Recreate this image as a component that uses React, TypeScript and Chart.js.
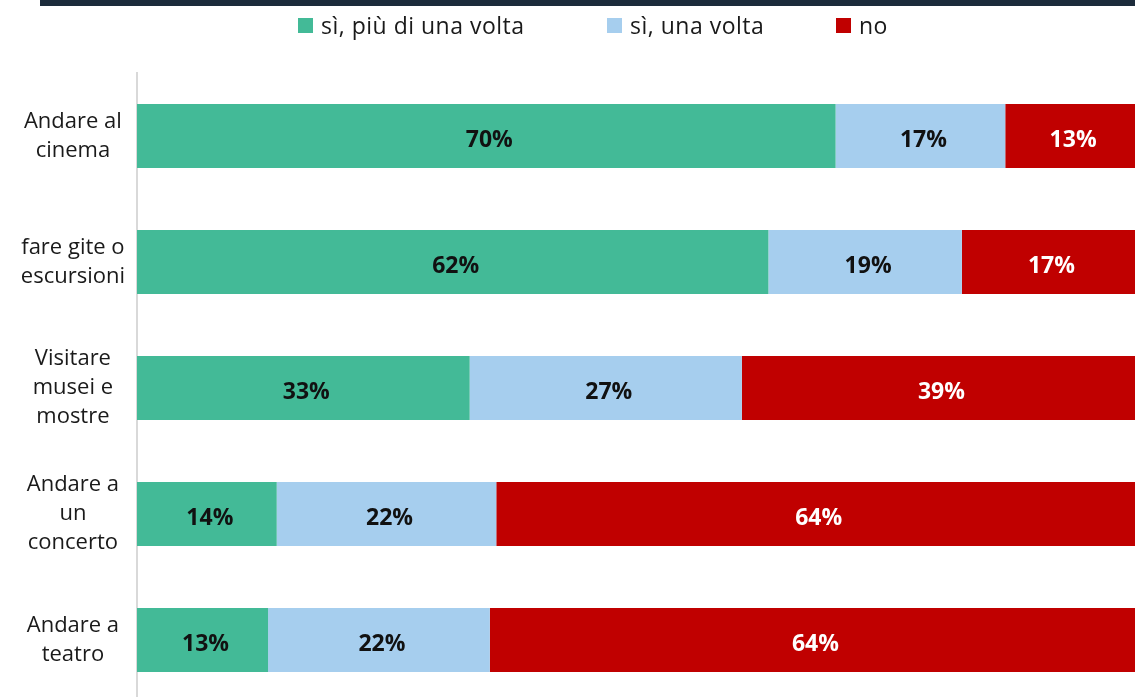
import React, { useEffect, useRef } from "react";
import { Chart, registerables } from "chart.js";

Chart.register(...registerables);

const categories: string[][] = [
  ["Andare al", "cinema"],
  ["fare gite o", "escursioni"],
  ["Visitare", "musei e", "mostre"],
  ["Andare a", "un", "concerto"],
  ["Andare a", "teatro"],
];
const seriesNames = ["sì, più di una volta", "sì, una volta", "no"];
const piuDiUnaVolta = [70, 62, 33, 14, 13];
const unaVolta = [17, 19, 27, 22, 22];
const mai = [13, 17, 39, 64, 64];

const seriesValues = [piuDiUnaVolta, unaVolta, mai];
const seriesColors = ["#43BA97", "#A6CEEE", "#C00000"];
const labelColors = ["#111111", "#111111", "#FFFFFF"];
const legendLeft = [298, 607, 836];
const FONT = "'Open Sans', 'DejaVu Sans', sans-serif";

const rowTotals = categories.map((_, j) =>
  seriesValues.reduce((s, arr) => s + arr[j], 0)
);

const valueLabels = {
  id: "valueLabels",
  afterDatasetsDraw(chart: any) {
    const ctx = chart.ctx;
    ctx.save();
    ctx.font = `bold 23px ${FONT}`;
    ctx.textAlign = "center";
    ctx.textBaseline = "middle";
    chart.data.datasets.forEach((_: any, i: number) => {
      const meta = chart.getDatasetMeta(i);
      meta.data.forEach((el: any, j: number) => {
        const p = el.getProps(["x", "base", "y"], true);
        ctx.fillStyle = labelColors[i];
        ctx.fillText(seriesValues[i][j] + "%", (p.x + p.base) / 2 + 3, p.y + 4);
      });
    });
    ctx.restore();
  },
};

export default function App() {
  const canvasRef = useRef<HTMLCanvasElement | null>(null);

  useEffect(() => {
    if (!canvasRef.current) return;
    const chart = new Chart(canvasRef.current, {
      type: "bar",
      data: {
        labels: categories,
        datasets: seriesNames.map((name, i) => ({
          label: name,
          data: seriesValues[i].map((v, j) => (v / rowTotals[j]) * 100),
          backgroundColor: seriesColors[i],
          borderWidth: 0,
          barPercentage: 1,
          categoryPercentage: 0.508,
        })),
      },
      options: {
        indexAxis: "y",
        animation: false,
        responsive: true,
        maintainAspectRatio: false,
        layout: { padding: { top: 73, right: 0, bottom: 0, left: 0 } },
        plugins: {
          legend: { display: false },
          tooltip: { enabled: false },
        },
        scales: {
          x: { stacked: true, min: 0, max: 100, display: false },
          y: {
            stacked: true,
            grid: { display: false },
            border: { display: true, color: "#D9D9D9", width: 2 },
            ticks: {
              crossAlign: "center",
              padding: 4,
              color: "#1A1A1A",
              font: { family: FONT, size: 22, lineHeight: 1.32 },
            },
            afterFit: (scale: any) => {
              scale.width = 137;
            },
          },
        },
      } as any,
      plugins: [valueLabels],
    });
    return () => chart.destroy();
  }, []);

  return (
    <div
      style={{
        position: "fixed",
        left: 0,
        top: 0,
        width: 1135,
        height: 697,
        overflow: "hidden",
        background: "#FFFFFF",
      }}
    >
      <div
        style={{
          position: "absolute",
          left: 40,
          top: 0,
          width: 1095,
          height: 6,
          background: "#1C2B3B",
        }}
      />
      {seriesNames.map((name, i) => (
        <div
          key={name}
          style={{
            position: "absolute",
            left: legendLeft[i],
            top: 8,
            height: 34,
            display: "flex",
            alignItems: "center",
            fontFamily: FONT,
            fontSize: 23,
            letterSpacing: 0.5,
            color: "#1A1A1A",
            whiteSpace: "nowrap",
            zIndex: 2,
          }}
        >
          <span
            style={{
              display: "inline-block",
              width: 15,
              height: 15,
              background: seriesColors[i],
              marginRight: 8,
            }}
          />
          <span>{name}</span>
        </div>
      ))}
      <div style={{ position: "absolute", left: 0, top: 0, width: 1135, height: 736 }}>
        <canvas ref={canvasRef} />
      </div>
    </div>
  );
}
